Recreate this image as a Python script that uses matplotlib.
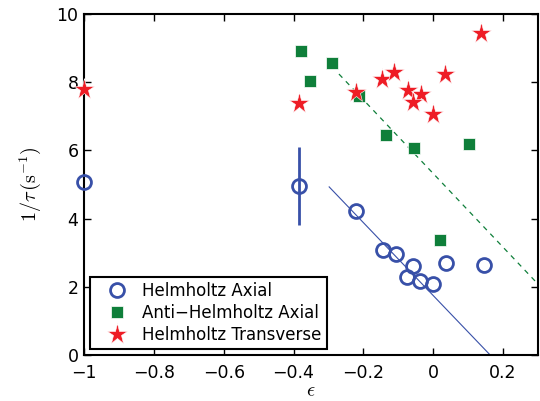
import matplotlib
matplotlib.use("Agg")
import matplotlib.pyplot as plt
import numpy as np

plt.rcParams['font.family'] = ['DejaVu Sans']
plt.rcParams['mathtext.fontset'] = 'cm'

# Helmholtz axial
ha_x = [-1.0, -0.384, -0.221, -0.143, -0.106, -0.057, -0.074, -0.037, 0.0, 0.036, 0.146]
ha_y = [5.07, 4.95, 4.22, 3.08, 2.96, 2.61, 2.29, 2.17, 2.08, 2.70, 2.65]
ha_err_x = [-0.384]
ha_err_y = [4.95]
ha_err_lo = [1.15]
ha_err_hi = [1.15]

# Anti-Helmholtz axial
ah_x = [-0.379, -0.289, -0.354, -0.213, -0.135, -0.054, 0.103, 0.018]
ah_y = [8.92, 8.57, 8.05, 7.61, 6.44, 6.08, 6.19, 3.37]

# Helmholtz transverse
ht_x = [-1.0, -0.385, -0.221, -0.146, -0.111, -0.073, -0.036, -0.057, -0.001, 0.034, 0.138]
ht_y = [7.80, 7.39, 7.71, 8.09, 8.30, 7.77, 7.66, 7.41, 7.06, 8.24, 9.43]

# fit lines
fit_ha_x = [-0.298, 0.163]
fit_ha_y = [4.93, 0.0]
fit_ah_x = [-0.27, 0.30]
fit_ah_y = [8.24, 2.08]

blue = '#3850a8'
green = '#0f7f3a'
red = '#ee1c25'

fig = plt.figure(figsize=(5.4, 4.01), dpi=100)
ax = fig.add_axes([0.1556, 0.1147, 0.8407, 0.8503])

ax.plot(fit_ha_x, fit_ha_y, '-', color=blue, lw=0.8)
ax.plot(fit_ah_x, fit_ah_y, '--', color=green, lw=0.9, dashes=(4, 4))

ax.errorbar(ha_err_x, ha_err_y, yerr=[ha_err_lo, ha_err_hi], fmt='none',
            ecolor=blue, elinewidth=2, capsize=0)
ax.plot(ha_x, ha_y, 'o', mfc='none', mec=blue, mew=2, ms=10, label='Helmholtz Axial',
        clip_on=False, zorder=4)
ax.plot(ah_x, ah_y, 's', color=green, mec='white', mew=0.5, ms=9, label='Anti\u2212Helmholtz Axial',
        clip_on=False, zorder=4)
ax.plot(ht_x, ht_y, '*', color=red, mec='white', mew=0.4, ms=15.5, label='Helmholtz Transverse',
        clip_on=False, zorder=5)

ax.set_xlim(-1, 0.3)
ax.set_ylim(0, 10)
ax.set_xticks([-1, -0.8, -0.6, -0.4, -0.2, 0, 0.2])
ax.set_xticklabels(['\u22121', '\u22120.8', '\u22120.6', '\u22120.4', '\u22120.2', '0', '0.2'])
ax.set_yticks([0, 2, 4, 6, 8, 10])
ax.tick_params(direction='in', length=5, width=1, labelsize=12.5, top=True, right=True, pad=4)
ax.tick_params(axis='x', pad=6.5)
for s in ax.spines.values():
    s.set_linewidth(1.5)

ax.set_xlabel(r'$\epsilon$', fontsize=14.5, labelpad=-0.5)
ax.set_ylabel(r'$1/\tau\,(\mathrm{s}^{-1})$', fontsize=14.5, labelpad=10)

leg = ax.legend(loc='lower left', fontsize=12, frameon=True, fancybox=False,
                edgecolor='black', borderpad=0.3, handletextpad=0.25,
                labelspacing=0.25, borderaxespad=0.35, handlelength=2.6,
                framealpha=1)
leg.get_frame().set_linewidth(1.5)
leg.set_zorder(10)

fig.savefig('out.png', dpi=100)
